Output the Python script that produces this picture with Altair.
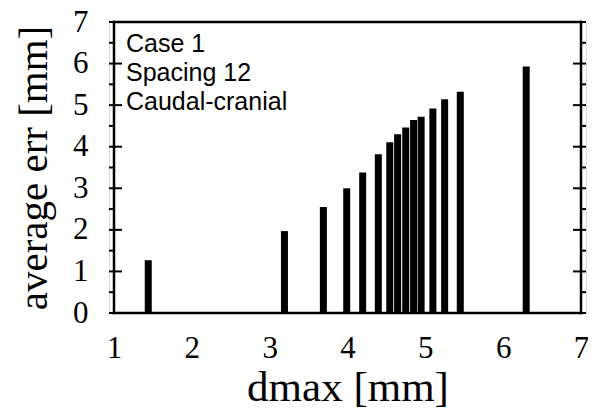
import altair as alt
import pandas as pd

# data
dmax = [1.44, 3.19, 3.69, 3.99, 4.195, 4.396, 4.543, 4.644, 4.748, 4.849, 4.946, 5.097, 5.248, 5.449, 6.296]
avg_err = [1.27, 1.97, 2.55, 3.00, 3.38, 3.82, 4.11, 4.30, 4.46, 4.64, 4.72, 4.92, 5.14, 5.32, 5.93]
x_ticks = [1, 2, 3, 4, 5, 6, 7]
y_major = [0, 1, 2, 3, 4, 5, 6, 7]
y_minor = [0.5, 1.5, 2.5, 3.5, 4.5, 5.5, 6.5]
x_limits = [1, 7]
y_limits = [0, 7]
note_lines = ["Case 1", "Spacing 12", "Caudal-cranial"]

W, H = 477, 291
MAJ, MIN = 13, 6

bars_df = pd.DataFrame({"dmax": dmax, "err": avg_err})
maj_df = pd.DataFrame({"v": y_major})
min_df = pd.DataFrame({"v": y_minor})
hedge_df = pd.DataFrame({"x0": [x_limits[0]] * 2, "x1": [x_limits[1]] * 2, "y": y_limits})
vedge_df = pd.DataFrame({"x": x_limits, "y0": [y_limits[0]] * 2, "y1": [y_limits[1]] * 2})
one = pd.DataFrame({"a": [0]})

xscale = alt.Scale(domain=x_limits, nice=False, zero=False)
yscale = alt.Scale(domain=y_limits, nice=False)

serif = "Liberation Serif"

bars = alt.Chart(bars_df).mark_bar(size=7, color="black").encode(
    x=alt.X("dmax:Q", scale=xscale,
            axis=alt.Axis(title="dmax [mm]", values=x_ticks, format="d", grid=False, ticks=False, domain=False,
                          labelFont=serif, labelFontSize=31, labelColor="black", labelPadding=20,
                          titleFont=serif, titleFontSize=43, titleFontWeight="normal", titleColor="black",
                          titlePadding=3)),
    y=alt.Y("err:Q", scale=yscale,
            axis=alt.Axis(title="average err [mm]", values=y_major, format="d", grid=False, ticks=False, domain=False,
                          labelFont=serif, labelFontSize=31, labelColor="black", labelPadding=21,
                          titleFont=serif, titleFontSize=41, titleFontWeight="normal", titleColor="black",
                          titlePadding=17)),
)

def ticks(df, x0, x1):
    return alt.Chart(df).mark_rule(color="black", strokeWidth=2).encode(
        y=alt.Y("v:Q", scale=yscale),
        x=alt.value(x0), x2=alt.value(x1),
    )

left_maj = ticks(maj_df, 0, MAJ)
left_min = ticks(min_df, 0, MIN)
right_maj = ticks(maj_df, W - MAJ, W)
right_min = ticks(min_df, W - MIN, W)

hframe = alt.Chart(hedge_df).mark_rule(color="black", strokeWidth=2.5, strokeCap="square").encode(
    x=alt.X("x0:Q", scale=xscale), x2="x1:Q", y=alt.Y("y:Q", scale=yscale)
)
vframe = alt.Chart(vedge_df).mark_rule(color="black", strokeWidth=2.5, strokeCap="square").encode(
    x=alt.X("x:Q", scale=xscale), y=alt.Y("y0:Q", scale=yscale), y2="y1:Q"
)

note = alt.Chart(one).mark_text(
    text=note_lines, align="left", baseline="alphabetic", font="Liberation Sans",
    fontSize=25, lineHeight=29, color="black"
).encode(x=alt.value(17), y=alt.value(30))

chart = alt.layer(bars, left_maj, left_min, right_maj, right_min, hframe, vframe, note).properties(
    width=W, height=H,
    autosize=alt.AutoSizeParams(type="none"),
    padding={"left": 101, "top": 14, "right": 2, "bottom": 95},
).configure_view(stroke="black", strokeWidth=2).configure(background="white")

chart.save("out.html", embed_options={"renderer": "svg", "actions": False})
